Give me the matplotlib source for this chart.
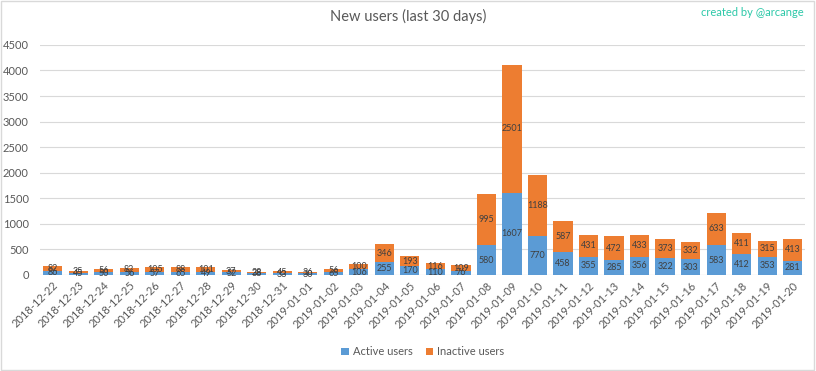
import matplotlib.pyplot as plt, numpy as np
from matplotlib.patches import Rectangle

dates = ["2018-12-22", "2018-12-23", "2018-12-24", "2018-12-25", "2018-12-26", "2018-12-27",
         "2018-12-28", "2018-12-29", "2018-12-30", "2018-12-31", "2019-01-01", "2019-01-02",
         "2019-01-03", "2019-01-04", "2019-01-05", "2019-01-06", "2019-01-07", "2019-01-08",
         "2019-01-09", "2019-01-10", "2019-01-11", "2019-01-12", "2019-01-13", "2019-01-14",
         "2019-01-15", "2019-01-16", "2019-01-17", "2019-01-18", "2019-01-19", "2019-01-20"]
active = [86, 45, 50, 56, 57, 65, 49, 52, 38, 33, 30, 65, 106, 255, 170, 110, 76, 580,
          1607, 770, 458, 355, 285, 356, 322, 303, 583, 412, 353, 281]
inactive = [82, 35, 56, 82, 105, 88, 101, 37, 28, 45, 36, 56, 100, 346, 193, 116, 109, 995,
            2501, 1188, 587, 431, 472, 433, 373, 332, 633, 411, 315, 413]

plt.rcParams['font.family'] = ['Lato', 'DejaVu Sans']
blue, orange, txt = "#5B9BD5", "#ED7D31", "#404040"

fig = plt.figure(figsize=(8.16, 3.71), dpi=100)
fig.patches.append(Rectangle((0.001, 0.002), 0.997, 0.995, transform=fig.transFigure,
                             fill=False, edgecolor="#D9D9D9", lw=1))
ax = fig.add_axes([0.049, 0.259, 0.938, 0.62])
x = np.arange(len(dates))
ax.bar(x, active, width=0.75, color=blue, label="Active users", zorder=2)
ax.bar(x, inactive, width=0.75, bottom=active, color=orange, label="Inactive users", zorder=2)
for i in x:
    ax.text(i, active[i] / 2, str(active[i]), ha="center", va="center", fontsize=6.5, color=txt, zorder=3)
    ax.text(i, active[i] + inactive[i] / 2, str(inactive[i]), ha="center", va="center", fontsize=6.5, color=txt, zorder=3)

ax.set_xlim(-0.5, len(dates) - 0.5); ax.set_ylim(0, 4500)
ax.set_yticks(range(0, 5000, 500))
ax.set_xticks(x); ax.set_xticklabels(dates, rotation=45, ha="right", rotation_mode="anchor")
ax.tick_params(length=0, labelsize=8, colors="#595959")
ax.tick_params(axis="y", pad=8)
ax.grid(axis="y", color="#D9D9D9", lw=0.8, zorder=0)
for s in ax.spines.values(): s.set_visible(False)
ax.axhline(0, color="#D9D9D9", lw=0.8, zorder=1)

fig.text(0.5, 0.955, "New users (last 30 days)", ha="center", va="center", fontsize=10.5, color="#595959")
fig.text(0.985, 0.965, "created by @arcange", ha="right", va="center", fontsize=8, color="#2CC8A8")
ax.legend(loc="center", bbox_to_anchor=(0.5, -0.335), ncol=2, frameon=False, fontsize=8,
          handlelength=0.7, handleheight=0.7, handletextpad=0.3, columnspacing=1.2, labelcolor="#595959")
plt.savefig("out.png", dpi=100)
